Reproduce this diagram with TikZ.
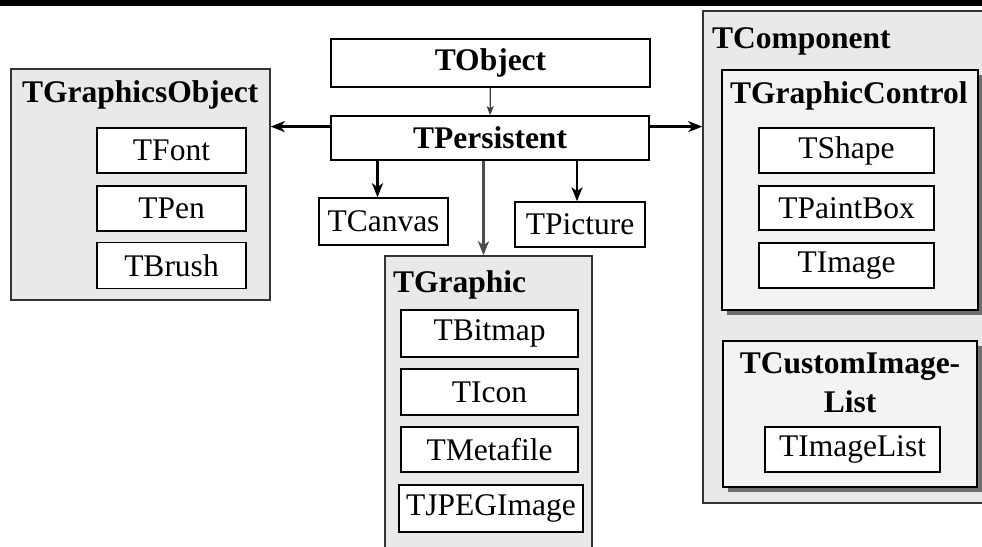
\documentclass[tikz,border=0pt]{standalone}
\usepackage{fontspec}
\setmainfont{Liberation Serif}
\usetikzlibrary{arrows.meta,calc,shadows}
\definecolor{grpfill}{HTML}{E9E9E9}
\definecolor{subfill}{HTML}{F3F3F3}
\definecolor{shadowgrey}{HTML}{6E6E6E}
\begin{document}
\begin{tikzpicture}[x=1pt,y=-1pt,
  every node/.style={font=\fontsize{31.5}{38}\selectfont},
  cls/.style={draw=black, line width=1.6pt, fill=white, inner sep=0pt},
  group/.style={draw=black!80, line width=1.5pt, fill=grpfill, inner sep=0pt},
  subgroup/.style={draw=black, line width=1.6pt, fill=subfill, inner sep=0pt,
    drop shadow={shadow xshift=5pt, shadow yshift=-5pt, fill=shadowgrey, opacity=1}},
  ttl/.style={font=\fontsize{31.5}{38}\selectfont\bfseries, inner sep=0pt},
  inh/.style={-{Stealth[length=14pt,width=11pt,inset=4pt]}, line width=2.4pt},
  inhthin/.style={-{Stealth[length=9pt,width=7pt,inset=2pt]}, line width=1.3pt, draw=black!75}]
\clip (0,0) rectangle (982,546);
\fill[white] (0,0) rectangle (982,546);
% heading rule
\fill[black] (0,0) rectangle (982,6);

% graphics objects group
\node[group, minimum width=259pt, minimum height=231pt] (gobj) at (140.5,184.5) {};
\node[ttl, anchor=base west] (gobjt) at (22,102) {TGraphicsObject};
\node[cls, minimum width=149pt, minimum height=45pt] (tfont) at (171.5,150.5) {TFont};
\node[cls, minimum width=149pt, minimum height=45pt] (tpen) at (171.5,208.5) {TPen};
\node[cls, minimum width=149pt, minimum height=46pt] (tbrush) at (171.5,265.5) {TBrush};

% root classes
\node[cls, minimum width=319pt, minimum height=48pt, font=\fontsize{31.5}{38}\selectfont\bfseries] (tobject) at (490.5,63) {TObject};
\node[cls, minimum width=318pt, minimum height=44pt, font=\fontsize{31.5}{38}\selectfont\bfseries] (persist) at (490,138) {TPersistent};
\node[cls, minimum width=129pt, minimum height=47pt] (canvas) at (383.5,221.5) {TCanvas};
\node[cls, minimum width=130pt, minimum height=45pt] (picture) at (580,224.5) {TPicture};

% graphic group
\node[group, minimum width=207pt, minimum height=304pt] (graphic) at (488.5,408) {};
\node[ttl, anchor=base west] (graphict) at (393,292) {TGraphic};
\node[cls, minimum width=177pt, minimum height=47pt] (bitmap) at (489.5,333.5) {TBitmap};
\node[cls, minimum width=177pt, minimum height=46pt] (icon) at (489.5,392) {TIcon};
\node[cls, minimum width=177pt, minimum height=45pt] (meta) at (489.5,449.5) {TMetafile};
\node[cls, minimum width=184pt, minimum height=47pt] (jpeg) at (491,508.5) {TJPEGImage};

% component group
\node[group, minimum width=297pt, minimum height=492pt] (comp) at (851.5,257) {};
\node[ttl, anchor=base west] (compt) at (712,48) {TComponent};
\node[subgroup, minimum width=256pt, minimum height=240pt] (gctrl) at (850,190) {};
\node[ttl, anchor=base west] (gctrlt) at (730,103) {TGraphicControl};
\node[cls, minimum width=175pt, minimum height=45pt] (shape) at (846.5,150.5) {TShape};
\node[cls, minimum width=175pt, minimum height=44pt] (paint) at (846.5,208) {TPaintBox};
\node[cls, minimum width=175pt, minimum height=45pt] (image) at (846.5,265.5) {TImage};
\node[subgroup, minimum width=254pt, minimum height=146pt] (cil) at (850,414) {};
\node[ttl, anchor=base] (cilt1) at (850,373) {TCustomImage-};
\node[ttl, anchor=base] (cilt2) at (850,412) {List};
\node[cls, minimum width=175pt, minimum height=45pt] (imglist) at (852.5,449.5) {TImageList};

% inheritance arrows
\coordinate (pl) at ($(persist.north west)!0.25!(persist.south west)$);
\coordinate (pr) at ($(persist.north east)!0.25!(persist.south east)$);
\draw[inhthin] (tobject) -- (persist);
\draw[inh] (pl) -- (pl -| gobj.east);
\draw[inh] (pr) -- (pr -| comp.west);
\draw[inh] ([xshift=-6pt]canvas.north |- persist.south) -- ([xshift=-6pt]canvas.north);
\draw[inh] ([xshift=-3pt]picture.north |- persist.south) -- ([xshift=-3pt]picture.north);
\draw[inh, draw=black!70] ([xshift=-5pt]graphic.north |- persist.south) -- ([xshift=-5pt]graphic.north);
\end{tikzpicture}
\end{document}
